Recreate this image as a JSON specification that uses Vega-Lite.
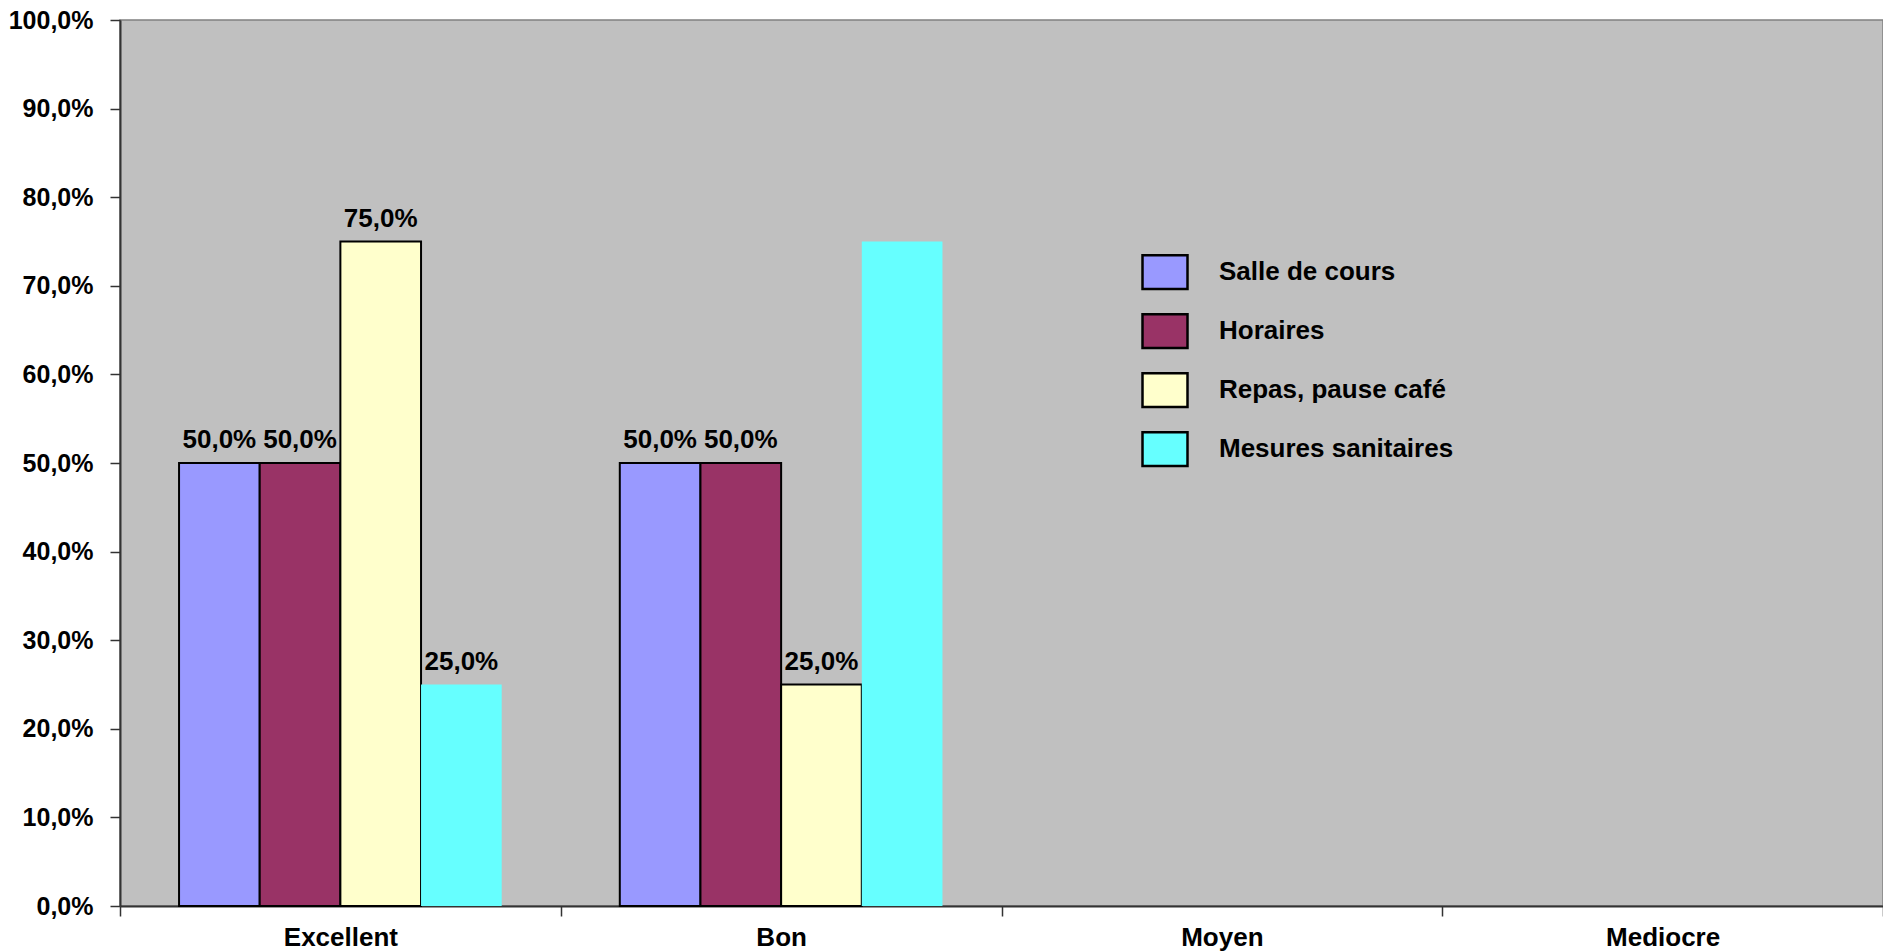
{
  "$schema": "https://vega.github.io/schema/vega-lite/v6.json",
  "width": 1763,
  "height": 886,
  "autosize": {"type": "none"},
  "padding": {"left": 120, "top": 20, "right": 0, "bottom": 46},
  "background": "white",
  "config": {
    "locale": {"number": {"decimal": ",", "thousands": " ", "grouping": [3], "currency": ["", " €"]}},
    "view": {"fill": "#C0C0C0", "stroke": "#808080", "strokeWidth": 1.5},
    "font": "Liberation Sans"
  },
  "data": {
    "values": [
      {"category": "Excellent", "series": "Salle de cours", "value": 0.5},
      {"category": "Excellent", "series": "Horaires", "value": 0.5},
      {"category": "Excellent", "series": "Repas, pause café", "value": 0.75},
      {"category": "Excellent", "series": "Mesures sanitaires", "value": 0.25},
      {"category": "Bon", "series": "Salle de cours", "value": 0.5},
      {"category": "Bon", "series": "Horaires", "value": 0.5},
      {"category": "Bon", "series": "Repas, pause café", "value": 0.25},
      {"category": "Bon", "series": "Mesures sanitaires", "value": 0.75}
    ]
  },
  "encoding": {
    "x": {
      "field": "category",
      "type": "nominal",
      "scale": {"domain": ["Excellent", "Bon", "Moyen", "Mediocre"], "paddingInner": 0, "paddingOuter": 0},
      "axis": {
        "title": null,
        "labelAngle": 0,
        "tickBand": "extent",
        "labelFont": "Liberation Sans",
        "labelFontWeight": "bold",
        "labelFontSize": 26,
        "labelColor": "black",
        "labelPadding": 8,
        "tickSize": 10,
        "tickColor": "#333333",
        "domainColor": "#333333",
        "domainWidth": 2,
        "tickWidth": 1.5
      }
    },
    "xOffset": {
      "field": "series",
      "type": "nominal",
      "sort": ["Salle de cours", "Horaires", "Repas, pause café", "Mesures sanitaires"],
      "scale": {"paddingInner": 0, "paddingOuter": 0.732}
    },
    "y": {
      "field": "value",
      "type": "quantitative",
      "scale": {"domain": [0, 1], "nice": false},
      "axis": {
        "title": null,
        "values": [0, 0.1, 0.2, 0.3, 0.4, 0.5, 0.6, 0.7, 0.8, 0.9, 1],
        "format": ".1%",
        "grid": false,
        "labelFont": "Liberation Sans",
        "labelFontWeight": "bold",
        "labelFontSize": 25,
        "labelColor": "black",
        "labelPadding": 17,
        "tickSize": 10,
        "tickColor": "#333333",
        "domainColor": "#333333",
        "domainWidth": 2,
        "tickWidth": 1.5
      }
    }
  },
  "layer": [
    {
      "mark": {"type": "bar", "stroke": "black"},
      "encoding": {
        "color": {
          "field": "series",
          "type": "nominal",
          "scale": {
            "domain": ["Salle de cours", "Horaires", "Repas, pause café", "Mesures sanitaires"],
            "range": ["#9999FF", "#993366", "#FFFFCC", "#66FFFF"]
          },
          "legend": {
            "title": null,
            "orient": "none",
            "legendX": 1021,
            "legendY": 228,
            "symbolType": "M-1,-0.75H1V0.75H-1Z",
            "symbolSize": 2025,
            "symbolStrokeColor": "black",
            "symbolStrokeWidth": 2.5,
            "symbolOpacity": 1,
            "labelFont": "Liberation Sans",
            "labelFontWeight": "bold",
            "labelFontSize": 26,
            "labelColor": "black",
            "labelOffset": 30,
            "rowPadding": 13,
            "labelLimit": 400
          }
        },
        "strokeWidth": {
          "condition": {"test": "datum.series === 'Mesures sanitaires'", "value": 0},
          "value": 2
        }
      }
    },
    {
      "transform": [
        {"filter": "!(datum.category === 'Bon' && datum.series === 'Mesures sanitaires')"}
      ],
      "mark": {
        "type": "text",
        "baseline": "alphabetic",
        "dy": -15,
        "font": "Liberation Sans",
        "fontWeight": "bold",
        "fontSize": 26,
        "color": "black"
      },
      "encoding": {
        "text": {"field": "value", "type": "quantitative", "format": ".1%"}
      }
    }
  ]
}
